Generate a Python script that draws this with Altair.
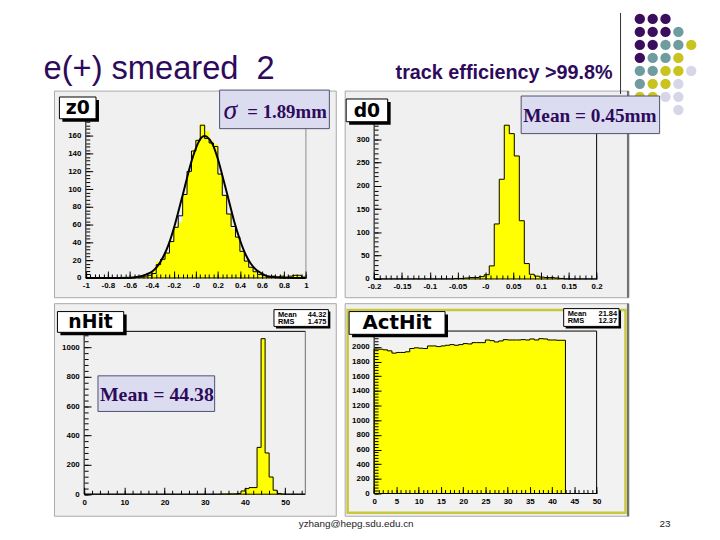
import altair as alt
import pandas as pd

OFF = 8            # page margin
W, H = 712, 532    # drawing area
SANS = "Liberation Sans, Arial, sans-serif"
SERIF = "Liberation Serif, Times New Roman, serif"
BOXF = "DejaVu Sans, sans-serif"
INK = "#2e0a5c"

# ---------------- data ----------------
z0_start, z0_width = -1.0, 0.04
z0_counts = [0, 0, 0, 0, 0, 0, 0, 0, 0, 0, 0,
             1, 1, 2, 3, 8, 18, 20, 28, 41, 57, 62, 94, 120, 143,
             155, 173, 165, 154, 150, 117, 93, 72, 55, 46, 30, 19, 12, 7, 4,
             3, 1, 2, 1, 2, 1, 2, 3, 3, 1]
z0_outline = [0, 0, 0, 0, 0, 0, 0, 0, 0, 0, 0,
              1, 1, 2, 3, 5, 15, 21, 28, 41, 57, 70, 94, 120, 143,
              155, 172, 157, 152, 148, 117, 93, 72, 58, 46, 30, 19, 12, 7, 4,
              3, 1, 2, 1, 2, 1, 2, 3, 3, 1]
z0_fit_x = [-1.0, -0.8, -0.6, -0.5, -0.45, -0.4, -0.35, -0.3, -0.25, -0.2,
            -0.15, -0.1, -0.05, 0.0, 0.05, 0.08, 0.1, 0.15, 0.2, 0.25,
            0.3, 0.35, 0.4, 0.45, 0.5, 0.55, 0.6, 0.65, 0.7, 0.8, 1.0]
z0_fit_y = [0, 0, 0.3, 2, 4, 7, 13, 23, 37, 56,
            79, 103, 127, 146, 158, 160, 159, 151, 134, 111,
            87, 63, 43, 27, 16, 9, 5, 2, 1, 0.1, 0]

d0_start, d0_width = -0.056, 0.009
d0_counts = [1, 1, 2, 3, 3, 5, 9, 28, 118, 214, 330, 312, 264, 125, 33, 10, 6, 4, 3, 3, 2, 1]

nhit_start, nhit_width = 34, 1
nhit_counts = [1, 1, 2, 2, 5, 22, 38, 45, 45, 319, 1060, 281, 117, 27, 5, 1]

act_start, act_width = 0, 1
act_counts = [1970, 1968, 1960, 1946, 1915, 1924, 1924, 1933, 1978, 1987,
              1982, 1978, 2013, 2013, 2004, 2013, 2022, 2031, 2022, 2031,
              2045, 2040, 2058, 2058, 2058, 2094, 2085, 2067, 2081, 2099,
              2094, 2094, 2094, 2099, 2094, 2108, 2094, 2112, 2108, 2094,
              2094, 2090, 2090]

nhit_stats = [("Mean", "44.32"), ("RMS", "1.475")]
act_stats = [("Mean", "21.84"), ("RMS", "12.37")]

dot_row = [0, 0, 0, 1, 1, 1, 1, 2, 2, 2, 2, 2, 3, 3, 3, 3, 4, 4, 4, 4, 4, 5, 5, 5, 5, 6, 6, 6, 6, 7]
dot_col = [0, 1, 2, 0, 1, 2, 3, 0, 1, 2, 3, 4, 0, 1, 2, 3, 0, 1, 2, 3, 4, 0, 1, 2, 3, 0, 1, 2, 3, 3]
dot_kind = ["P", "P", "P", "P", "P", "P", "T", "P", "P", "T", "T", "O", "P", "T", "T", "O",
            "T", "T", "O", "O", "L", "T", "O", "O", "L", "O", "O", "L", "L", "L"]

# ---------------- helpers ----------------
one = pd.DataFrame({"k": [0]})


def box(x1, y1, x2, y2, fill, stroke=None, sw=1.0):
    kw = dict(fill=fill)
    if stroke:
        kw.update(stroke=stroke, strokeWidth=sw)
    else:
        kw.update(strokeWidth=0)
    return alt.Chart(one).mark_rect(**kw).encode(
        x=alt.value(x1 - OFF), x2=alt.value(x2 - OFF),
        y=alt.value(y1 - OFF), y2=alt.value(y2 - OFF))


def shadow_box(x1, y1, x2, y2, fill="white", sh=3):
    return [box(x1 + sh, y1 + sh, x2 + sh, y2 + sh, "black"),
            box(x1, y1, x2, y2, fill, "black", 1)]


def txt(s, x, y, size, color="black", font=SANS, weight="normal", align="left",
        style="normal", baseline="alphabetic"):
    return alt.Chart(one).mark_text(
        text=s, font=font, fontSize=size, fontWeight=weight, fontStyle=style,
        color=color, align=align, baseline=baseline).encode(
        x=alt.value(x - OFF), y=alt.value(y - OFF))


def vrule(x, y1, y2, color, sw=1.0):
    return alt.Chart(one).mark_rule(color=color, strokeWidth=sw).encode(
        x=alt.value(x - OFF), y=alt.value(y1 - OFF), y2=alt.value(y2 - OFF))


def hist_df(start, width, vals, dec):
    return pd.DataFrame({
        "lo": [round(start + i * width, dec) for i in range(len(vals))],
        "hi": [round(start + (i + 1) * width, dec) for i in range(len(vals))],
        "n": vals})


def step_df(start, width, vals, dec, xmin, xmax):
    xs, ys = [xmin], [0]
    for i, v in enumerate(vals):
        xs.append(round(start + i * width, dec))
        ys.append(v)
    xs.append(round(start + len(vals) * width, dec))
    ys.append(0)
    xs.append(xmax)
    ys.append(0)
    return pd.DataFrame({"x": xs, "y": ys, "i": list(range(len(xs)))})


LAB = dict(domain=False, ticks=False, grid=False, title=None, labels=True,
           labelFont=SANS, labelFontSize=8, labelFontWeight="bold", labelColor="black",
           labelOverlap=False, labelFlush=False, zindex=1)
TICK = dict(domain=False, labels=False, grid=False, title=None, ticks=True,
            tickColor="black", tickWidth=1, zindex=1)


def panel(p, hist, step, extra_lines=()):
    xs = alt.Scale(domain=p["xdom"], range=[p["xl"] - OFF, p["xr"] - OFF], nice=False, zero=False)
    ys = alt.Scale(domain=p["ydom"], range=[p["yb"] - OFF, p["yt"] - OFF], nice=False, zero=False)
    fmt = "'' + round(datum.value*1000)/1000"
    if p.get("negzero"):
        fmt = "datum.value == 0 ? '-0' : " + fmt
    ax_lx = alt.Axis(orient="bottom", offset=(p["yb"] - OFF) - H, values=p["xlab"],
                     labelExpr=fmt, labelPadding=4, **LAB)
    ax_ly = alt.Axis(orient="left", offset=-(p["xl"] - OFF), values=p["ylab"],
                     labelExpr="'' + datum.value", labelPadding=5, **LAB)
    ax_tx = alt.Axis(orient="top", offset=-(p["yb"] - OFF), values=p["xlab"], tickSize=7, **TICK)
    ax_ty = alt.Axis(orient="right", offset=(p["xl"] - OFF) - W, values=p["ytick"], tickSize=7, **TICK)
    ax_mx = alt.Axis(orient="top", offset=-(p["yb"] - OFF), values=p["xmin"], tickSize=4, **TICK)
    ax_my = alt.Axis(orient="right", offset=(p["xl"] - OFF) - W, values=p["ymin"], tickSize=4, **TICK)

    bars = alt.Chart(hist).mark_rect(color="#ffff00", stroke="#ffff00", strokeWidth=0.7).encode(
        x=alt.X("lo:Q", scale=xs, axis=ax_lx), x2="hi:Q",
        y=alt.Y("n:Q", scale=ys, axis=ax_ly), y2=alt.datum(0))
    outline = alt.Chart(step).mark_line(color="black", strokeWidth=1, interpolate="step-after").encode(
        x=alt.X("x:Q", scale=xs, axis=ax_tx), y=alt.Y("y:Q", scale=ys, axis=ax_ty), order="i:Q")
    ghost = alt.Chart(step).mark_point(opacity=0).encode(
        x=alt.X("x:Q", scale=xs, axis=ax_mx), y=alt.Y("y:Q", scale=ys, axis=ax_my))
    x0, x1 = p["xdom"]
    y0, y1 = p["ydom"]
    fr = [(x0, x0, y0, y1, "black"), (x0, x1, y0, y0, "black"), (x1, x1, y0, y1, p["rcol"])]
    if p.get("top"):
        fr.append((x0, x1, y1, y1, p["top"]))
    fdf = pd.DataFrame(fr, columns=["a", "b", "c", "d", "col"])
    frame = alt.Chart(fdf).mark_rule(strokeWidth=1).encode(
        x=alt.X("a:Q", scale=xs, axis=None), x2="b:Q",
        y=alt.Y("c:Q", scale=ys, axis=None), y2="d:Q",
        color=alt.Color("col:N", scale=None))
    layers = [bars, outline, ghost]
    for e in extra_lines:
        layers.append(e(xs, ys))
    layers.append(frame)
    return layers


P = {
    "z0": dict(xl=86.7, xr=309.3, xdom=[-1, 1], yb=278, yt=98.4, ydom=[0, 200], negzero=True,
               xlab=[-1, -0.8, -0.6, -0.4, -0.2, 0, 0.2, 0.4, 0.6, 0.8, 1],
               xmin=[round(-1 + 0.04 * i, 2) for i in range(51)],
               ylab=[0, 20, 40, 60, 80, 100, 120, 140, 160],
               ytick=[0, 20, 40, 60, 80, 100, 120, 140, 160],
               ymin=[4 * i for i in range(45)], rcol="#8c8c8c"),
    "d0": dict(xl=378.3, xr=603.3, xdom=[-0.2, 0.2], yb=279, yt=100, ydom=[0, 380], negzero=True,
               xlab=[-0.2, -0.15, -0.1, -0.05, 0, 0.05, 0.1, 0.15, 0.2],
               xmin=[round(-0.2 + 0.01 * i, 2) for i in range(41)],
               ylab=[0, 50, 100, 150, 200, 250, 300],
               ytick=[0, 50, 100, 150, 200, 250, 300],
               ymin=[10 * i for i in range(34)], rcol="black"),
    "nhit": dict(xl=85, xr=308.7, xdom=[0, 55], yb=496.7, yt=332, ydom=[0, 1110],
                 xlab=[0, 10, 20, 30, 40, 50], xmin=[2 * i for i in range(28)],
                 ylab=[0, 200, 400, 600, 800, 1000], ytick=[0, 200, 400, 600, 800, 1000],
                 ymin=[40 * i for i in range(28)], rcol="#6e6e6e", top="black"),
    "act": dict(xl=378.3, xr=603.3, xdom=[0, 50], yb=496, yt=331.7, ydom=[0, 2216],
                xlab=[0, 5, 10, 15, 20, 25, 30, 35, 40, 45, 50], xmin=list(range(51)),
                ylab=[0, 200, 400, 600, 800, 1000, 1200, 1400, 1600, 1800, 2000],
                ytick=[0, 200, 400, 600, 800, 1000, 1200, 1400, 1600, 1800, 2000],
                ymin=[40 * i for i in range(54)], rcol="black", top="black"),
}

fit_df = pd.DataFrame({"x": z0_fit_x, "y": z0_fit_y})


def fit_layer(xs, ys):
    return alt.Chart(fit_df).mark_line(color="black", strokeWidth=2, interpolate="monotone").encode(
        x=alt.X("x:Q", scale=xs, axis=None), y=alt.Y("y:Q", scale=ys, axis=None))


layers = []
# pads
layers += [box(55, 89, 340, 298, "#f0f0f0", "#a8a8a8"),
           box(349, 89, 636, 298, "#f0f0f0", "#a8a8a8"),
           box(55, 304, 340, 519, "#f0f0f0", "#a8a8a8"),
           box(349, 304, 636, 519, "#f0f0f0", "#a8a8a8"),
           box(351.5, 310.5, 632.5, 515.5, "#f2f2f2", "#c8c83c", 2.5),
           vrule(635, 89, 298, "#707070", 2), vrule(635, 304, 519, "#707070", 2)]

layers += panel(P["z0"], hist_df(z0_start, z0_width, z0_counts, 2),
                step_df(z0_start, z0_width, z0_outline, 2, -1, 1), [fit_layer])
layers += panel(P["d0"], hist_df(d0_start, d0_width, d0_counts, 3),
                step_df(d0_start, d0_width, d0_counts, 3, -0.2, 0.2))
layers += panel(P["nhit"], hist_df(nhit_start, nhit_width, nhit_counts, 0),
                step_df(nhit_start, nhit_width, nhit_counts, 0, 0, 55))
layers += panel(P["act"], hist_df(act_start, act_width, act_counts, 0),
                step_df(act_start, act_width, act_counts, 0, 0, 50))

# histogram title boxes
layers += shadow_box(60, 95, 97, 117)
layers += [txt("z0", 78.5, 106.5, 19, font=BOXF, weight="bold", align="center", baseline="middle")]
layers += shadow_box(350, 97, 392, 120)
layers += [txt("d0", 371, 109, 19, font=BOXF, weight="bold", align="center", baseline="middle")]
layers += shadow_box(58, 312, 125, 333)
layers += [txt("nHit", 91.5, 323, 19, font=BOXF, weight="bold", align="center", baseline="middle")]
layers += shadow_box(353, 312, 450, 335)
layers += [txt("ActHit", 401.5, 324, 20, font=BOXF, weight="bold", align="center", baseline="middle")]

# stats boxes
layers += shadow_box(277, 310, 332, 327, sh=2)
for i, (k, v) in enumerate(nhit_stats):
    layers += [txt(k, 281, 317 + 8 * i, 7.5, weight="bold"), txt(v, 330, 317 + 8 * i, 7.5, weight="bold", align="right")]
layers += shadow_box(570, 309, 626, 327, sh=2)
for i, (k, v) in enumerate(act_stats):
    layers += [txt(k, 574, 316 + 8 * i, 7.5, weight="bold"), txt(v, 624, 316 + 8 * i, 7.5, weight="bold", align="right")]

# decoration dots
dots = pd.DataFrame({"r": dot_row, "c": dot_col, "k": dot_kind})
layers += [alt.Chart(dots).mark_circle(size=110, opacity=1).encode(
    x=alt.X("c:Q", scale=alt.Scale(domain=[0, 4], range=[647 - OFF, 699 - OFF], nice=False, zero=False), axis=None),
    y=alt.Y("r:Q", scale=alt.Scale(domain=[0, 7], range=[16 - OFF, 108 - OFF], nice=False, zero=False), axis=None),
    color=alt.Color("k:N", scale=alt.Scale(domain=["P", "T", "O", "L"],
                                           range=["#3a0d5e", "#6f9c9e", "#c9c320", "#d6d6e8"]), legend=None))]

# annotation boxes
layers += [box(222, 88, 333, 127, "#dcdcf0", "#505070", 1),
           txt("σ", 226, 117, 28, color=INK, font=SERIF, style="italic"),
           txt("= 1.89mm", 250, 116, 19, color=INK, font=SERIF, weight="bold"),
           box(527, 94, 667, 132, "#dcdcf0", "#505070", 1),
           txt("Mean = 0.45mm", 529, 120, 19.5, color=INK, font=SERIF, weight="bold"),
           box(99, 377, 217, 413, "#dcdcf0", "#505070", 1),
           txt("Mean = 44.38", 101, 402, 20, color=INK, font=SERIF, weight="bold")]

# slide texts
layers += [txt("e(+) smeared\u00a0\u00a02", 44, 77, 33, color=INK),
           txt("track efficiency >99.8%", 400, 77, 20, color=INK, weight="bold"),
           vrule(627.5, 10, 92, "#303030", 1),
           txt("yzhang@hepg.sdu.edu.cn", 302, 530, 10, color="#222222"),
           txt("23", 667, 530, 10, color="#222222")]

chart = alt.layer(*layers).properties(
    width=W, height=H, padding=0, background="white",
    autosize=alt.AutoSizeParams(type="none"),
).resolve_scale(x="independent", y="independent", color="independent").resolve_axis(
    x="independent", y="independent").configure_view(stroke=None)

chart.save("out.html", embed_options={"renderer": "svg", "actions": False})
